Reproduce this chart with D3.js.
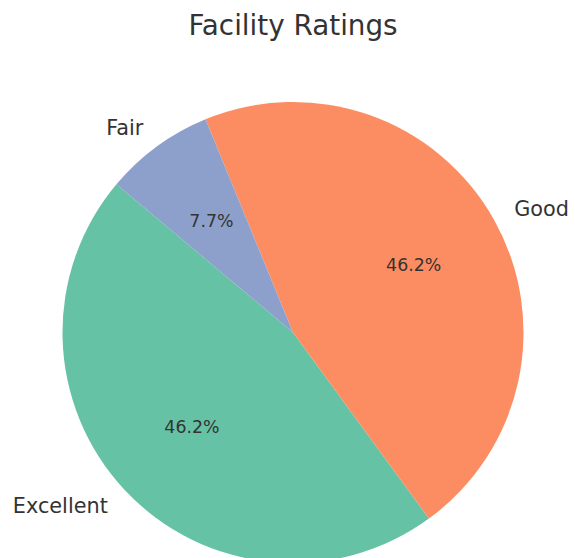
<!DOCTYPE html>
<html>
<head>
<meta charset="utf-8">
<script src="https://cdn.jsdelivr.net/npm/d3@7"></script>
<style>
  body { margin: 0; background: #fff; }
</style>
</head>
<body>
<script>
var categories = ['Excellent', 'Good', 'Fair'];
var counts = [6, 6, 1];
var colors = ['#66c2a5', '#fc8d62', '#8da0cb'];

var size = { width: 575, height: 558 };
var center = { x: 293, y: 332.5 };
var radius = 230.5;
var startDeg = 140;

var svg = d3.select('body').append('svg')
  .attr('width', size.width)
  .attr('height', size.height)
  .style('font-family', 'DejaVu Sans, sans-serif');

svg.append('text')
  .attr('x', 293)
  .attr('y', 35)
  .attr('text-anchor', 'middle')
  .attr('font-size', '27.8px')
  .attr('fill', '#333')
  .text('Facility Ratings');

var data = categories.map(function(c, i) {
  return { name: c, value: counts[i], color: colors[i] };
});

var total = d3.sum(counts);
var a0 = (90 - startDeg) * Math.PI / 180;

var pie = d3.pie()
  .sort(null)
  .value(function(d) { return d.value; })
  .startAngle(a0)
  .endAngle(a0 - 2 * Math.PI);

var arcs = pie(data);

var arc = d3.arc()
  .innerRadius(0)
  .outerRadius(radius);

var g = svg.append('g')
  .attr('transform', 'translate(' + center.x + ',' + center.y + ')');

g.selectAll('path')
  .data(arcs)
  .enter()
  .append('path')
  .attr('d', arc)
  .attr('fill', function(d) { return d.data.color; });

function mid(d) {
  return (d.startAngle + d.endAngle) / 2;
}

g.selectAll('text.label')
  .data(arcs)
  .enter()
  .append('text')
  .attr('class', 'label')
  .attr('x', function(d) { return 1.1 * radius * Math.sin(mid(d)); })
  .attr('y', function(d) { return -1.1 * radius * Math.cos(mid(d)); })
  .attr('dy', '0.33em')
  .attr('text-anchor', function(d) { return Math.sin(mid(d)) < 0 ? 'end' : 'start'; })
  .attr('font-size', '20.8px')
  .attr('fill', '#333')
  .text(function(d) { return d.data.name; });

g.selectAll('text.pct')
  .data(arcs)
  .enter()
  .append('text')
  .attr('class', 'pct')
  .attr('x', function(d) { return 0.6 * radius * Math.sin(mid(d)); })
  .attr('y', function(d) { return -0.6 * radius * Math.cos(mid(d)); })
  .attr('dy', '0.35em')
  .attr('text-anchor', 'middle')
  .attr('font-size', '17.4px')
  .attr('fill', '#333')
  .text(function(d) { return (d.data.value / total * 100).toFixed(1) + '%'; });
</script>
</body>
</html>
